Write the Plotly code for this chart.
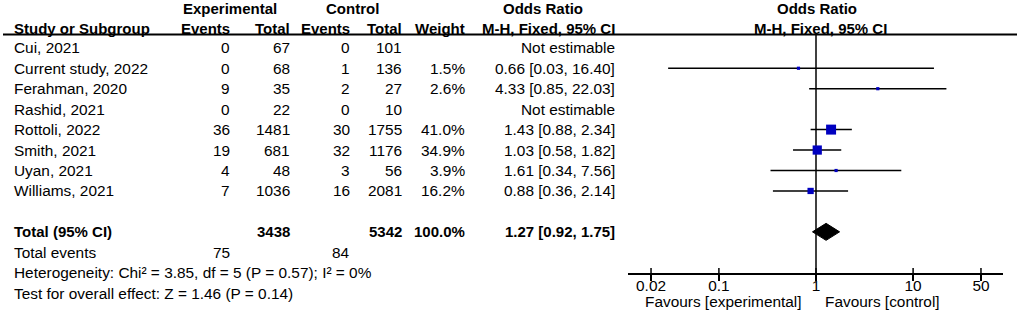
import math
import plotly.graph_objects as go

# ---------------- data ----------------
studies = ["Cui, 2021", "Current study, 2022", "Ferahman, 2020", "Rashid, 2021",
           "Rottoli, 2022", "Smith, 2021", "Uyan, 2021", "Williams, 2021"]
exp_events = [0, 0, 9, 0, 36, 19, 4, 7]
exp_total = [67, 68, 35, 22, 1481, 681, 48, 1036]
ctrl_events = [0, 1, 2, 0, 30, 32, 3, 16]
ctrl_total = [101, 136, 27, 10, 1755, 1176, 56, 2081]
weights = [None, 1.5, 2.6, None, 41.0, 34.9, 3.9, 16.2]
or_est = [None, 0.66, 4.33, None, 1.43, 1.03, 1.61, 0.88]
ci_lo = [None, 0.03, 0.85, None, 0.88, 0.58, 0.34, 0.36]
ci_hi = [None, 16.40, 22.03, None, 2.34, 1.82, 7.56, 2.14]

total_exp = 3438
total_ctrl = 5342
total_weight = 100.0
total_or = 1.27
total_lo = 0.92
total_hi = 1.75
total_events_exp = 75
total_events_ctrl = 84
heterogeneity = "Heterogeneity: Chi² = 3.85, df = 5 (P = 0.57); I² = 0%"
overall = "Test for overall effect: Z = 1.46 (P = 0.14)"

tick_vals = [0.02, 0.1, 1, 10, 50]
tick_text = ["0.02", "0.1", "1", "10", "50"]

# ---------------- layout helpers ----------------
W, H = 1021, 319
ROW0, ROWH = 47.8, 20.45  # pixel of first row, row pitch


def prow(py):
    """pixel y -> row units"""
    return (py - ROW0) / ROWH


def px(x):
    return x / W


FONT = "Liberation Sans, Arial, sans-serif"
FS = 15.4
FSB = 15
BLUE = "#0000c0"

row_total = 9
row_tev = 10
row_het = 11
row_test = 12

# column positions (pixels)
col_name_left = 13
col_ee = 231
col_et = 291
col_ce = 351
col_ct = 403
col_w = 466
col_or = 616

fig = go.Figure()
ann = []


def txt(x, y, s, anchor="right", bold=False):
    ann.append(dict(x=px(x), y=y, xref="paper", yref="y", text=f"<b>{s}</b>" if bold else s,
                    showarrow=False, xanchor=anchor, yanchor="middle", borderpad=0,
                    font=dict(family=FONT, size=FSB if bold else FS, color="#000")))


# headers
hy1 = prow(8.5)
hy2 = prow(28.5)
txt(230, hy1, "Experimental", "center", True)
txt(352, hy1, "Control", "center", True)
txt(543, hy1, "Odds Ratio", "center", True)
txt(817, hy1, "Odds Ratio", "center", True)
txt(col_name_left, hy2, "Study or Subgroup", "left", True)
txt(col_ee, hy2, "Events", "right", True)
txt(col_et, hy2, "Total", "right", True)
txt(col_ce, hy2, "Events", "right", True)
txt(col_ct, hy2, "Total", "right", True)
txt(col_w, hy2, "Weight", "right", True)
txt(col_or, hy2, "M-H, Fixed, 95% CI", "right", True)
txt(820, hy2, "M-H, Fixed, 95% CI", "center", True)

# study rows
for i, name in enumerate(studies):
    txt(col_name_left, i, name, "left")
    txt(col_ee, i, str(exp_events[i]))
    txt(col_et, i, str(exp_total[i]))
    txt(col_ce, i, str(ctrl_events[i]))
    txt(col_ct, i, str(ctrl_total[i]))
    if weights[i] is not None:
        txt(col_w, i, f"{weights[i]:.1f}%")
        txt(col_or, i, f"{or_est[i]:.2f} [{ci_lo[i]:.2f}, {ci_hi[i]:.2f}]")
    else:
        txt(col_or, i, "Not estimable")

# totals
txt(col_name_left, row_total, "Total (95% CI)", "left", True)
txt(col_et, row_total, str(total_exp), "right", True)
txt(col_ct, row_total, str(total_ctrl), "right", True)
txt(col_w, row_total, f"{total_weight:.1f}%", "right", True)
txt(col_or, row_total, f"{total_or:.2f} [{total_lo:.2f}, {total_hi:.2f}]", "right", True)
txt(col_name_left, row_tev, "Total events", "left")
txt(col_ee, row_tev, str(total_events_exp))
txt(col_ce, row_tev, str(total_events_ctrl))
txt(col_name_left, row_het, heterogeneity, "left")
txt(col_name_left, row_test, overall, "left")

# favours labels
fav_y = prow(301)
ann.append(dict(x=0, y=fav_y, xref="x", yref="y", text="Favours [experimental]", showarrow=False,
                xanchor="right", yanchor="middle", xshift=-13, borderpad=0,
                font=dict(family=FONT, size=FS, color="#000")))
ann.append(dict(x=0, y=fav_y, xref="x", yref="y", text="Favours [control]", showarrow=False,
                xanchor="left", yanchor="middle", xshift=8, borderpad=0,
                font=dict(family=FONT, size=FS, color="#000")))

# ---------------- forest marks ----------------
# null line
fig.add_trace(go.Scatter(x=[1, 1], y=[prow(35), prow(274)], mode="lines",
                         line=dict(color="black", width=1.5), hoverinfo="skip", showlegend=False))

# CI lines
cx, cy = [], []
for i in range(len(studies)):
    if or_est[i] is None:
        continue
    cx += [ci_lo[i], ci_hi[i], None]
    cy += [i, i, None]
fig.add_trace(go.Scatter(x=cx, y=cy, mode="lines", line=dict(color="black", width=1.5),
                         hoverinfo="skip", showlegend=False))

# squares (area proportional to weight)
sx, sy, ss = [], [], []
for i in range(len(studies)):
    if or_est[i] is None:
        continue
    sx.append(or_est[i])
    sy.append(i)
    ss.append(max(3.2, 1.56 * math.sqrt(weights[i])))
fig.add_trace(go.Scatter(x=sx, y=sy, mode="markers",
                         marker=dict(symbol="square", size=ss, color=BLUE, opacity=1,
                                     line=dict(width=0)),
                         hoverinfo="skip", showlegend=False))

# diamond
dh = 8.5 / ROWH
fig.add_trace(go.Scatter(x=[total_lo, total_or, total_hi, total_or, total_lo],
                         y=[row_total, row_total - dh, row_total, row_total + dh, row_total],
                         mode="lines", fill="toself", fillcolor="black",
                         line=dict(color="black", width=1), hoverinfo="skip", showlegend=False))

# upper half of tick marks (ticks cross the axis)
tx, ty = [], []
for v in tick_vals:
    tx += [v, v, None]
    ty += [prow(268), prow(274), None]
fig.add_trace(go.Scatter(x=tx, y=ty, mode="lines", line=dict(color="black", width=1.5),
                         hoverinfo="skip", showlegend=False))

# header rule
shapes = [dict(type="line", xref="paper", yref="y", x0=px(3), x1=px(1017),
               y0=prow(34.5), y1=prow(34.5), line=dict(color="black", width=2))]

AX_L, AX_R = 628, 1003
C1, DEC = 816.0, 97.1
fig.update_layout(
    width=W, height=H,
    margin=dict(l=0, r=0, t=0, b=0),
    paper_bgcolor="white", plot_bgcolor="white",
    showlegend=False,
    annotations=ann,
    shapes=shapes,
    xaxis=dict(type="log", domain=[px(AX_L), px(AX_R)],
               range=[(AX_L - C1) / DEC, (AX_R - C1) / DEC],
               anchor="free", position=(H - 274) / H,
               showline=True, linecolor="black", linewidth=1.5,
               ticks="outside", ticklen=6, tickwidth=1.5, tickcolor="black",
               ticklabelstandoff=-8,
               tickvals=tick_vals, ticktext=tick_text,
               tickfont=dict(family=FONT, size=FS, color="#000"),
               showgrid=False, zeroline=False),
    yaxis=dict(range=[(H - ROW0) / ROWH, -ROW0 / ROWH], domain=[0, 1],
               visible=False, showgrid=False, zeroline=False),
)

fig.write_html("out.html", config={"displayModeBar": False},
               post_script="document.body.style.margin='0';")
